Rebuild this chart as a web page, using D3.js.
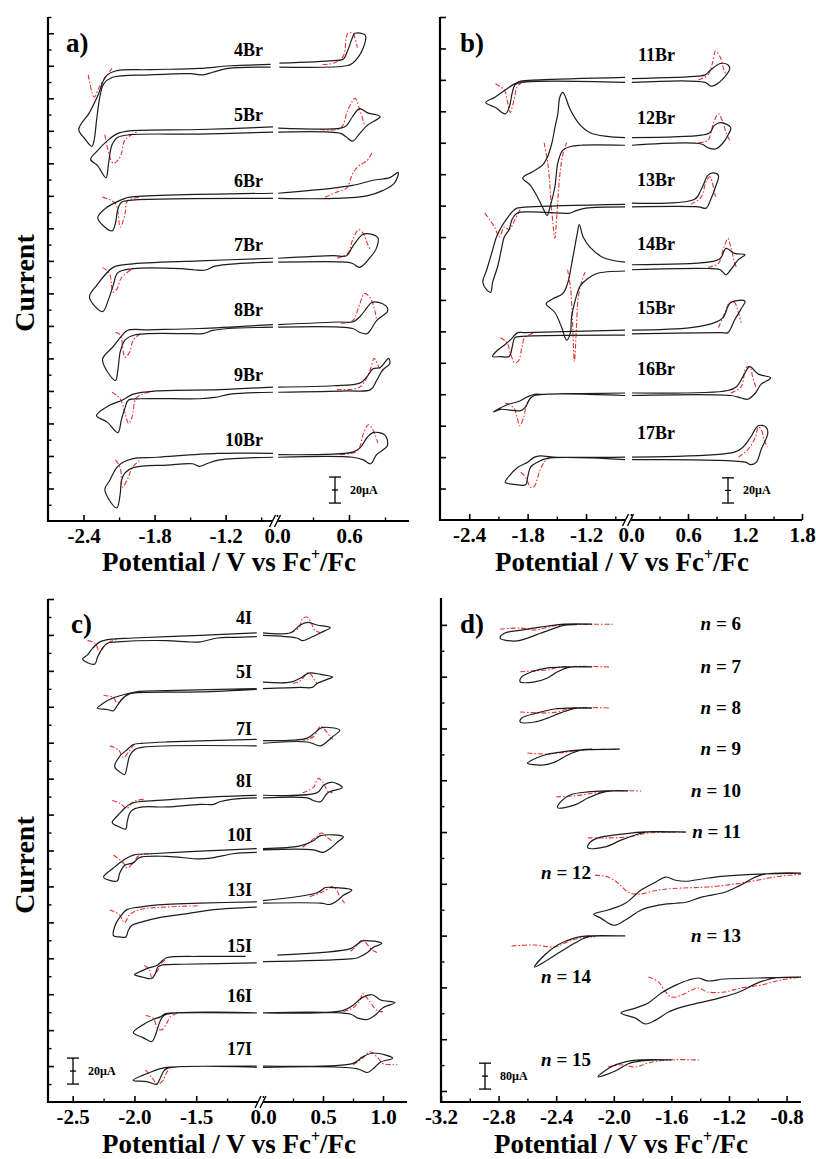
<!DOCTYPE html>
<html><head><meta charset="utf-8">
<script src="https://cdn.jsdelivr.net/npm/d3@7"></script>
<style>body{margin:0;background:#fff}</style>
</head><body>
<svg id="chart" width="816" height="1159" xmlns="http://www.w3.org/2000/svg"></svg>
<script>
// ===== Panel a (Br series): potentials in V, currents in µA relative to each trace's baseline =====
const aNames = ["4Br","5Br","6Br","7Br","8Br","9Br","10Br"];
const aBase = [349, 299, 248, 199, 149, 99, 49];
const aTickMajorL = [-2.4,-1.8,-1.2], aTickMinorL = [-2.1,-1.5,-0.9];
const aTickMajorR = [0.0,0.6], aTickMinorR = [0.3,0.9];
const aCvL = [
 [[-0.82,2],[-1.16,1],[-1.42,-1],[-1.84,-2],[-2.13,-3],[-2.21,-7],[-2.28,-22],[-2.35,-35],[-2.44,-48],[-2.39,-55],[-2.33,-61],[-2.31,-56],[-2.29,-41],[-2.26,-22],[-2.23,-13],[-2.16,-8],[-1.84,-6],[-1.50,-5],[-1.39,-6],[-1.31,-4],[-1.18,-1],[-0.82,0]],
 [[-0.80,4],[-1.42,2],[-2.01,1],[-2.11,-1],[-2.19,-6],[-2.29,-15],[-2.34,-21],[-2.28,-26],[-2.21,-35],[-2.19,-25],[-2.16,-10],[-2.11,-4],[-2.01,-2],[-1.42,-1.5],[-0.80,0]],
 [[-0.80,4],[-2.01,1],[-2.05,0],[-2.15,-4],[-2.22,-8],[-2.28,-15],[-2.16,-25],[-2.13,-19],[-2.11,-8],[-2.08,-3],[-2.01,-1.5],[-0.80,0]],
 [[-0.80,3],[-1.42,1],[-2.01,-1.5],[-2.15,-4],[-2.29,-18],[-2.35,-27],[-2.24,-38],[-2.19,-29],[-2.15,-18],[-2.11,-8],[-1.98,-5],[-1.58,-5],[-1.46,-6],[-1.37,-6],[-1.29,-3],[-1.08,-1],[-0.80,0]],
 [[-0.80,2],[-1.42,-1],[-1.84,-2],[-2.03,-2.5],[-2.09,-8],[-2.15,-15],[-2.24,-25],[-2.13,-41],[-2.11,-33],[-2.09,-19],[-2.05,-10],[-1.97,-6],[-1.50,-5],[-1.39,-5],[-1.31,-2.5],[-1.18,-1],[-0.80,0]],
 [[-0.80,4],[-1.25,2],[-1.78,1],[-1.98,-1.5],[-2.07,-6],[-2.18,-10],[-2.29,-18],[-2.20,-23],[-2.11,-31],[-2.08,-21],[-2.05,-12],[-2.02,-6],[-1.92,-5],[-1.42,-5],[-1.29,-4],[-1.16,-1.5],[-0.80,0]],
 [[-0.80,3],[-1.27,3],[-1.78,0],[-1.98,-1],[-2.07,-4],[-2.12,-8],[-2.18,-18],[-2.22,-25],[-2.12,-39],[-2.09,-28],[-2.08,-18],[-2.05,-12],[-1.98,-8],[-1.69,-6],[-1.48,-5],[-1.42,-7],[-1.36,-5],[-1.25,-2],[-0.80,0]]
];
const aCvR = [
 [[0.02,3],[0.47,5],[0.55,6],[0.59,13],[0.63,23],[0.65,26],[0.73,25],[0.74,23],[0.72,15],[0.68,8],[0.63,3],[0.58,1],[0.02,0]],
 [[0.01,3],[0.53,3],[0.58,5],[0.63,12],[0.69,18],[0.75,15],[0.86,12],[0.75,5],[0.69,-1],[0.63,-7],[0.58,-4],[0.53,-1],[0.01,0]],
 [[0.01,4],[0.47,8],[0.63,10],[0.80,14],[0.94,16],[1.01,20],[0.98,12],[0.88,6],[0.75,2],[0.47,0],[0.01,0]],
 [[0.01,3],[0.47,5],[0.58,5],[0.63,12],[0.71,21],[0.75,22],[0.84,19],[0.83,11],[0.78,4],[0.69,-4],[0.63,-1],[0.58,0],[0.01,0]],
 [[0.01,2],[0.53,4],[0.63,4],[0.69,8],[0.75,15],[0.79,19],[0.88,18],[0.92,15],[0.92,12],[0.83,5],[0.78,-2],[0.75,-5],[0.69,-4],[0.63,-1],[0.01,0]],
 [[0.01,4],[0.47,5],[0.69,7],[0.75,12],[0.80,18],[0.86,19],[0.93,26],[0.94,22],[0.88,17],[0.83,9],[0.78,2],[0.58,1],[0.01,0]],
 [[0.01,2],[0.63,4],[0.69,7],[0.75,15],[0.80,19],[0.90,17],[0.92,9],[0.83,2],[0.78,-5],[0.72,-2],[0.63,0],[0.01,0]]
];
const aDpvL = [
 [[-2.36,-6],[-2.31,-23],[-2.26,-14],[-2.16,-1]],
 [[-2.22,-2],[-2.15,-24],[-2.09,-19],[-2.05,-6],[-1.95,0]],
 [[-2.24,1],[-2.13,-4],[-2.09,-22],[-2.05,-12],[-2.03,-2],[-1.92,1]],
 [[-2.24,-4],[-2.18,-9],[-2.15,-23],[-2.12,-21],[-2.08,-12],[-1.97,-4]],
 [[-2.13,-4],[-2.09,-6],[-2.05,-23],[-2.01,-19],[-1.98,-10],[-1.92,-5]],
 [[-2.16,0],[-2.09,-5],[-2.05,-16],[-2.02,-24],[-1.99,-19],[-1.95,-4],[-1.80,1]],
 [[-2.13,-2],[-2.09,-8],[-2.07,-23],[-2.02,-15],[-1.99,-8],[-1.92,-2]]
];
const aDpvR = [
 [[0.38,2],[0.47,3],[0.55,8],[0.59,26],[0.63,26],[0.67,15]],
 [[0.36,2],[0.53,3],[0.59,17],[0.65,26],[0.69,17],[0.73,5]],
 [[0.40,1],[0.50,5],[0.58,8],[0.63,19],[0.68,25],[0.75,29],[0.79,35]],
 [[0.50,3],[0.59,7],[0.63,17],[0.68,25],[0.72,22],[0.75,15],[0.78,9]],
 [[0.53,3],[0.63,5],[0.69,18],[0.73,26],[0.78,22],[0.82,11],[0.83,5]],
 [[0.50,2],[0.69,4],[0.78,18],[0.81,26],[0.86,18],[0.90,17]],
 [[0.53,2],[0.67,5],[0.72,18],[0.76,25],[0.80,21],[0.84,11]]
];

// ===== Panel b =====
const bNames = ["11Br","12Br","13Br","14Br","15Br","16Br","17Br"];
const bBase = [348, 298, 249, 198, 147, 99, 48];
const bTickMajorL = [-2.4,-1.8,-1.2], bTickMinorL = [-2.1,-1.5,-0.9];
const bTickMajorR = [0.0,0.6,1.2,1.8], bTickMinorR = [0.3,0.9,1.5];
const bCvL = [
 [[-0.80,4],[-1.68,2],[-1.87,1],[-1.93,-1],[-2.03,-6],[-2.14,-12],[-2.23,-16],[-2.13,-20],[-2.03,-25],[-1.99,-20],[-1.96,-9],[-1.93,-2],[-1.86,0],[-0.80,0]],
 [[-0.80,6],[-0.98,7],[-1.16,10],[-1.26,16],[-1.36,28],[-1.42,40],[-1.44,42],[-1.47,38],[-1.49,25],[-1.52,14],[-1.55,2],[-1.60,-10],[-1.65,-16],[-1.75,-21],[-1.85,-26],[-1.77,-32],[-1.70,-41],[-1.63,-52],[-1.60,-56],[-1.57,-49],[-1.52,-33],[-1.49,-14],[-1.44,-4],[-1.36,-1],[-1.26,0],[-0.80,0]],
 [[-0.80,2],[-1.78,0],[-1.91,-1],[-1.96,-4],[-2.00,-8],[-2.07,-16],[-2.12,-24],[-2.17,-37],[-2.22,-50],[-2.26,-60],[-2.22,-66],[-2.18,-68],[-2.16,-60],[-2.11,-48],[-2.07,-34],[-2.04,-24],[-1.99,-18],[-1.96,-10],[-1.91,-5],[-1.78,-4],[-1.45,-5],[-1.37,-5],[-1.30,-3],[-1.20,-1],[-0.80,0]],
 [[-0.80,7],[-1.03,11],[-1.16,19],[-1.23,27],[-1.27,37],[-1.29,30],[-1.34,9],[-1.39,-10],[-1.44,-18],[-1.54,-22],[-1.61,-26],[-1.52,-33],[-1.45,-45],[-1.40,-55],[-1.36,-49],[-1.35,-37],[-1.31,-23],[-1.26,-12],[-1.18,-6],[-1.09,-2],[-0.80,0]],
 [[-0.80,4],[-1.83,2],[-1.90,2],[-1.98,-4],[-2.04,-8],[-2.11,-12],[-2.16,-17],[-2.08,-17],[-1.99,-17],[-1.96,-10],[-1.93,-2],[-1.86,-1],[-0.80,0]],
 [[-0.80,2],[-1.67,1],[-1.73,1],[-1.80,-1],[-1.90,-5],[-2.00,-7],[-2.15,-13],[-2.08,-11],[-1.87,-12],[-1.82,-9],[-1.78,-3],[-1.73,0],[-0.80,0]],
 [[-0.80,2],[-1.53,2],[-1.67,3],[-1.73,2],[-1.80,-2],[-1.90,-6],[-2.00,-14],[-2.03,-18],[-1.90,-20],[-1.82,-20],[-1.80,-14],[-1.77,-6],[-1.70,-2],[-1.60,1],[-0.80,0]]
];
const bCvR = [
 [[0.01,3],[0.71,5],[0.78,6],[0.84,10],[0.94,15],[1.02,14],[1.04,11],[0.97,3],[0.89,-2],[0.84,-3],[0.78,0],[0.01,0]],
 [[0.01,6],[0.74,8],[0.83,10],[0.88,16],[0.95,18],[1.05,14],[1.02,8],[0.97,2],[0.89,-3],[0.81,-2],[0.74,1],[0.01,0]],
 [[0.01,3],[0.67,6],[0.74,14],[0.81,25],[0.86,27],[0.92,25],[0.89,16],[0.84,6],[0.79,-1],[0.71,0],[0.01,0]],
 [[0.01,5],[0.81,7],[0.94,10],[1.00,18],[1.09,14],[1.20,13],[1.13,9],[1.05,1],[1.00,-3],[0.94,1],[0.81,2],[0.01,1]],
 [[0.01,4],[0.63,6],[0.88,10],[0.97,14],[1.05,26],[1.20,27],[1.16,21],[1.09,12],[1.02,2],[0.95,2],[0.01,1]],
 [[0.01,2],[1.02,4],[1.11,7],[1.20,18],[1.25,23],[1.34,17],[1.47,14],[1.37,9],[1.31,2],[1.23,-3],[1.16,-2],[1.05,0],[0.01,0]],
 [[0.01,2],[1.09,6],[1.18,10],[1.26,18],[1.34,27],[1.42,26],[1.44,21],[1.37,8],[1.32,-2],[1.26,-4],[1.20,-2],[0.01,0]]
];
const bDpvL = [
 [[-2.13,-1],[-2.04,-6],[-2.01,-14],[-1.98,-24],[-1.94,-14],[-1.91,-4],[-1.86,0]],
 [[-1.63,2],[-1.59,-16],[-1.55,-54],[-1.52,-74],[-1.50,-56],[-1.47,-24],[-1.44,-8],[-1.40,2]],
 [[-2.24,-5],[-2.14,-16],[-2.09,-24],[-2.04,-16],[-1.99,-18],[-1.93,-10],[-1.87,-1]],
 [[-1.39,1],[-1.36,-13],[-1.34,-39],[-1.32,-72],[-1.30,-47],[-1.28,-21],[-1.24,-7],[-1.21,-1]],
 [[-2.08,-2],[-2.01,-6],[-1.98,-14],[-1.93,-22],[-1.89,-20],[-1.86,-10],[-1.83,-2],[-1.73,2]],
 [[-2.03,-6],[-1.94,-10],[-1.91,-17],[-1.88,-24],[-1.84,-17],[-1.81,-7],[-1.76,-1]],
 [[-1.87,-10],[-1.82,-14],[-1.77,-22],[-1.73,-21],[-1.68,-10],[-1.63,-2],[-1.57,2]]
];
const bDpvR = [
 [[0.71,2],[0.81,6],[0.86,16],[0.89,25],[0.94,20],[0.97,12],[1.00,6]],
 [[0.71,2],[0.81,4],[0.87,18],[0.92,25],[0.97,18],[1.00,10],[1.04,4]],
 [[0.63,2],[0.74,8],[0.79,20],[0.83,24],[0.86,18],[0.88,11],[0.89,8]],
 [[0.81,3],[0.92,6],[0.97,17],[1.02,26],[1.05,19],[1.09,7],[1.11,3]],
 [[0.92,6],[0.99,18],[1.04,26],[1.09,26],[1.13,18],[1.16,10]],
 [[1.05,2],[1.16,7],[1.21,22],[1.25,23],[1.28,15],[1.32,5]],
 [[1.13,2],[1.23,8],[1.31,18],[1.34,26],[1.37,24],[1.41,14],[1.44,10]]
];

// ===== Panel c (I series) =====
const cNames = ["4I","5I","7I","8I","10I","13I","15I","16I","17I"];
const cBase = [359, 318, 274, 234, 192, 150, 107, 68.5, 27.7];
const cTickMajorL = [-2.5,-2.0,-1.5], cTickMinorL = [-2.25,-1.75,-1.25];
const cTickMajorR = [0.0,0.5,1.0], cTickMinorR = [0.25,0.75];
const cCvL = [
 [[-1.01,2],[-1.47,0],[-2.01,-2],[-2.20,-3],[-2.28,-5],[-2.34,-10],[-2.38,-15],[-2.42,-18],[-2.38,-21],[-2.32,-22],[-2.30,-17],[-2.26,-10],[-2.22,-6],[-2.14,-5],[-1.74,-4],[-1.57,-5],[-1.47,-5],[-1.33,-2],[-1.20,-1.5],[-1.01,-1]],
 [[-1.01,0],[-1.74,-1.5],[-1.96,-2],[-2.06,-4],[-2.17,-7],[-2.25,-11],[-2.30,-15],[-2.22,-16],[-2.17,-17],[-2.14,-13],[-2.09,-7],[-2.04,-4],[-1.96,-3],[-1.47,-2.5],[-1.01,-0.5]],
 [[-1.01,5],[-1.74,3],[-1.93,2],[-2.01,1],[-2.06,-3],[-2.12,-8],[-2.16,-16],[-2.12,-20],[-2.08,-22],[-2.06,-16],[-2.04,-8],[-2.00,-3],[-1.93,-1],[-1.01,0]],
 [[-1.01,2],[-1.33,1],[-1.74,-1.5],[-1.96,-3],[-2.02,-4],[-2.08,-8],[-2.13,-13],[-2.18,-19],[-2.13,-22],[-2.07,-24],[-2.06,-19],[-2.04,-12],[-2.01,-9],[-1.93,-7],[-1.74,-7],[-1.47,-5],[-1.36,-5],[-1.31,-3],[-1.20,-1],[-1.01,0]],
 [[-1.01,3],[-1.47,1],[-1.87,-1],[-2.01,-2],[-2.09,-6],[-2.17,-12],[-2.25,-19],[-2.14,-22],[-2.12,-16],[-2.08,-10],[-2.01,-8],[-1.96,-4],[-1.74,-3],[-1.47,-5],[-1.36,-4],[-1.20,-1],[-1.01,0]],
 [[-1.01,4],[-1.47,3],[-1.74,2],[-1.96,0],[-2.06,-2],[-2.12,-8],[-2.16,-15],[-2.17,-22],[-2.12,-23],[-2.07,-23],[-2.05,-18],[-2.02,-14],[-1.96,-12],[-1.79,-8],[-1.57,-5],[-1.36,-2],[-1.01,0]],
 [[-1.10,5],[-1.47,5],[-1.74,4],[-1.77,2],[-1.82,-2],[-1.89,-4],[-1.96,-7],[-2.00,-9],[-1.93,-11],[-1.86,-12],[-1.83,-8],[-1.81,-3],[-1.77,-1.5],[-1.61,-1],[-1.01,0]],
 [[-1.01,0],[-1.69,0],[-1.75,-0.5],[-1.79,-3],[-1.85,-5],[-1.93,-9],[-2.01,-15],[-1.93,-19],[-1.86,-22],[-1.83,-17],[-1.81,-11],[-1.78,-4],[-1.74,-1],[-1.01,0]],
 [[-1.01,0],[-1.74,-1],[-1.79,-2],[-1.85,-4],[-1.93,-7],[-2.01,-11],[-1.90,-12],[-1.82,-14],[-1.79,-9],[-1.77,-5],[-1.74,-2],[-1.01,-1]]
];
const cCvR = [
 [[0.00,2],[0.23,2],[0.31,8],[0.37,10],[0.45,8],[0.56,6],[0.48,2],[0.39,-2],[0.33,-4],[0.28,-2],[0.00,0]],
 [[0.00,5],[0.23,5],[0.31,8],[0.38,12],[0.48,11],[0.58,9],[0.53,7],[0.45,4],[0.41,1],[0.31,1],[0.00,0]],
 [[0.00,4],[0.37,6],[0.43,10],[0.49,14],[0.64,12],[0.58,7],[0.53,3],[0.48,0],[0.37,3],[0.00,2]],
 [[0.00,2],[0.45,4],[0.51,10],[0.58,12],[0.66,8],[0.54,4],[0.48,-3],[0.42,-2],[0.37,0],[0.00,0]],
 [[0.00,3],[0.31,5],[0.42,9],[0.48,13],[0.67,12],[0.62,8],[0.56,3],[0.50,0],[0.42,2],[0.00,2]],
 [[0.00,5],[0.45,11],[0.52,15],[0.58,15],[0.74,13],[0.67,9],[0.62,5],[0.56,2],[0.48,3],[0.00,3]],
 [[0.12,6],[0.73,11],[0.78,14],[0.83,17],[0.99,15],[0.92,12],[0.87,8],[0.79,4],[0.70,3],[0.00,1]],
 [[0.00,0],[0.67,2],[0.75,6],[0.83,12],[0.91,14],[0.98,10],[1.10,8],[1.00,4],[0.93,-2],[0.87,-5],[0.79,-4],[0.73,-1],[0.00,0]],
 [[0.00,0],[0.75,2],[0.83,7],[0.92,10],[1.08,6],[0.98,3],[0.92,-2],[0.87,-5],[0.78,-2],[0.00,-1]]
];
const cDpvL = [
 [[-2.38,-4],[-2.32,-6],[-2.28,-13],[-2.25,-9],[-2.20,-5],[-2.14,-3]],
 [[-2.25,-5],[-2.17,-7],[-2.14,-11],[-2.10,-8],[-2.05,-4],[-1.98,-3]],
 [[-2.20,0],[-2.13,-3],[-2.09,-9],[-2.05,-5],[-2.00,1],[-1.93,2]],
 [[-2.18,-2],[-2.12,-4],[-2.06,-8],[-2.02,-4],[-1.98,-2],[-1.91,-1]],
 [[-2.17,-2],[-2.09,-8],[-2.06,-12],[-2.01,-8],[-1.96,-2],[-1.85,-1]],
 [[-2.20,-2],[-2.12,-6],[-2.08,-12],[-2.04,-6],[-1.96,-2],[-1.74,0],[-1.47,1]],
 [[-1.92,-2],[-1.88,-5],[-1.86,-11],[-1.82,-7],[-1.78,0],[-1.74,3]],
 [[-1.91,-2],[-1.85,-4],[-1.81,-12],[-1.78,-13],[-1.74,-8],[-1.71,-3],[-1.65,0]],
 [[-1.91,-3],[-1.86,-9],[-1.81,-14],[-1.77,-11],[-1.74,-5],[-1.71,-2]]
];
const cDpvR = [
 [[0.23,2],[0.30,6],[0.33,13],[0.37,14],[0.41,8],[0.43,4],[0.48,2]],
 [[0.25,4],[0.31,6],[0.37,12],[0.39,12],[0.42,8],[0.45,4]],
 [[0.31,3],[0.42,7],[0.48,15],[0.52,12],[0.56,7],[0.58,5]],
 [[0.33,4],[0.42,8],[0.46,15],[0.50,12],[0.54,5],[0.58,4]],
 [[0.33,4],[0.43,11],[0.49,15],[0.53,12],[0.57,9]],
 [[0.39,8],[0.48,11],[0.56,15],[0.58,16],[0.62,12],[0.64,8],[0.68,3]],
 [[0.73,9],[0.79,14],[0.83,18],[0.87,14],[0.91,10],[0.95,8]],
 [[0.67,1],[0.75,4],[0.81,10],[0.83,15],[0.88,10],[0.95,2],[1.00,1]],
 [[0.75,1],[0.83,6],[0.89,11],[0.95,7],[1.00,2],[1.08,1],[1.12,1]]
];

// ===== Panel d (chain length n) =====
const dNs = [6,7,8,9,10,11,12,13,14,15];
const dBase = [1442, 1310, 1183, 1056, 927, 800, 673, 479, 352, 96];
const dTickMajor = [-3.2,-2.8,-2.4,-2.0,-1.6,-1.2,-0.8], dTickMinor = [-3.0,-2.6,-2.2,-1.8,-1.4,-1.0];
const dCv = [
 [[-2.15,0],[-2.34,0],[-2.51,-9],[-2.64,-18],[-2.76,-28],[-2.79,-43],[-2.69,-52],[-2.60,-43],[-2.51,-28],[-2.41,-12],[-2.34,-3],[-2.25,0],[-2.15,0]],
 [[-2.15,0],[-2.34,0],[-2.46,-3],[-2.57,-15],[-2.64,-31],[-2.65,-46],[-2.55,-46],[-2.46,-34],[-2.39,-15],[-2.32,-2],[-2.15,0]],
 [[-2.15,0],[-2.30,0],[-2.41,-3],[-2.53,-15],[-2.64,-31],[-2.65,-43],[-2.55,-43],[-2.46,-31],[-2.37,-15],[-2.27,-1],[-2.15,0]],
 [[-1.96,0],[-2.25,-3],[-2.37,-9],[-2.48,-18],[-2.57,-34],[-2.60,-43],[-2.50,-49],[-2.41,-40],[-2.32,-18],[-2.23,-3],[-2.15,0]],
 [[-1.90,0],[-2.04,0],[-2.18,-3],[-2.30,-12],[-2.37,-34],[-2.39,-52],[-2.27,-43],[-2.18,-22],[-2.09,-6],[-2.02,0],[-1.90,0]],
 [[-1.50,0],[-1.81,0],[-1.99,-9],[-2.11,-18],[-2.17,-34],[-2.18,-49],[-2.06,-46],[-1.95,-25],[-1.85,-9],[-1.78,0],[-1.60,0]],
 [[-0.70,0],[-1.00,-3],[-1.23,-9],[-1.39,-18],[-1.50,-25],[-1.57,-22],[-1.64,-12],[-1.71,-28],[-1.81,-52],[-1.92,-93],[-2.04,-114],[-2.14,-127],[-2.09,-139],[-2.00,-161],[-1.92,-145],[-1.81,-114],[-1.69,-99],[-1.57,-93],[-1.50,-90],[-1.39,-74],[-1.23,-59],[-1.12,-37],[-0.98,-6],[-0.70,0]],
 [[-1.92,0],[-2.18,0],[-2.27,-6],[-2.39,-28],[-2.48,-59],[-2.55,-96],[-2.46,-74],[-2.37,-49],[-2.27,-22],[-2.18,-3],[-2.05,0]],
 [[-0.70,0],[-1.00,-3],[-1.23,-6],[-1.35,-12],[-1.41,-3],[-1.48,-9],[-1.57,-25],[-1.67,-49],[-1.76,-80],[-1.85,-96],[-1.95,-111],[-1.85,-127],[-1.78,-145],[-1.71,-133],[-1.62,-108],[-1.53,-93],[-1.41,-80],[-1.27,-65],[-1.13,-46],[-1.00,-18],[-0.88,-3],[-0.70,0]],
 [[-1.60,0],[-1.81,0],[-1.92,-6],[-2.02,-22],[-2.11,-52],[-1.99,-34],[-1.90,-12],[-1.81,-3],[-1.70,0]]
];
const dDpv = [
 [[-2.79,-15],[-2.64,-12],[-2.55,-18],[-2.46,-9],[-2.37,-3],[-2.00,0]],
 [[-2.65,-15],[-2.55,-12],[-2.46,-9],[-2.37,0],[-2.02,0]],
 [[-2.65,-12],[-2.51,-15],[-2.39,-12],[-2.30,0],[-2.02,0]],
 [[-2.60,-12],[-2.48,-15],[-2.39,-12],[-2.32,-9],[-2.23,-3],[-1.96,0]],
 [[-2.40,-18],[-2.27,-15],[-2.13,-6],[-2.02,0],[-1.81,0]],
 [[-2.18,-18],[-2.04,-18],[-1.90,-15],[-1.76,-3],[-1.50,0]],
 [[-2.13,-6],[-2.04,-12],[-1.97,-31],[-1.90,-59],[-1.83,-65],[-1.69,-52],[-1.53,-46],[-1.35,-43],[-1.12,-31],[-0.88,-12],[-0.70,-3]],
 [[-2.71,-31],[-2.55,-28],[-2.41,-34],[-2.32,-18],[-2.23,-6],[-2.13,-3]],
 [[-1.76,0],[-1.69,-15],[-1.64,-46],[-1.60,-62],[-1.53,-56],[-1.46,-40],[-1.41,-34],[-1.35,-46],[-1.23,-46],[-1.12,-34],[-0.98,-25],[-0.84,-9],[-0.70,0]],
 [[-2.04,-22],[-1.95,-15],[-1.85,-22],[-1.76,-9],[-1.62,0],[-1.41,0]]
];

// ===== Drawing =====
const svg = d3.select("#chart");
const FONT = "'Liberation Serif','Times New Roman',Times,serif";
const BLACK = "#1c1c1c", RED = "#e8322e";

function drawPanel(P) {
  const g = svg.append("g").attr("font-family", FONT).attr("font-weight", "bold");
  const y = d3.scaleLinear().domain(P.yDom).range(P.yRng);
  const xs = P.xDoms.map((d, i) => d3.scaleLinear().domain(d).range(P.xRngs[i]));
  const x0 = P.xRngs[0][0], x1 = P.xRngs[P.xRngs.length - 1][1];
  const y0 = P.yRng[0], yTop = P.yRng[1];

  xs.forEach((sc, i) => {
    const ax = g.append("g").attr("transform", `translate(0,${y0})`)
      .call(d3.axisBottom(sc).tickValues(P.xMajor[i]).tickSize(-6).tickPadding(7).tickFormat(d => d.toFixed(1)));
    ax.select(".domain").remove();
    ax.selectAll("line").attr("stroke", "#000").attr("stroke-width", 1.6);
    ax.selectAll("text").attr("font-size", 21).attr("font-family", FONT).attr("font-weight", "bold").attr("fill", "#000");
    const mi = g.append("g").attr("transform", `translate(0,${y0})`)
      .call(d3.axisBottom(sc).tickValues(P.xMinor[i]).tickSize(-3.5).tickFormat(""));
    mi.select(".domain").remove();
    mi.selectAll("line").attr("stroke", "#000").attr("stroke-width", 1.4);
  });
  const ya = g.append("g").attr("transform", `translate(${x0},0)`)
    .call(d3.axisRight(y).tickValues(P.yMajor).tickSize(6).tickFormat(""));
  ya.select(".domain").remove();
  ya.selectAll("line").attr("stroke", "#000").attr("stroke-width", 1.6);
  if (P.yMinor) {
    const ym = g.append("g").attr("transform", `translate(${x0},0)`)
      .call(d3.axisRight(y).tickValues(P.yMinor).tickSize(3.5).tickFormat(""));
    ym.select(".domain").remove();
    ym.selectAll("line").attr("stroke", "#000").attr("stroke-width", 1.4);
  }
  g.append("line").attr("x1", x0).attr("x2", x1).attr("y1", y0).attr("y2", y0).attr("stroke", "#000").attr("stroke-width", 2.2);
  g.append("line").attr("x1", x0).attr("x2", x0).attr("y1", y0 + 1).attr("y2", yTop).attr("stroke", "#000").attr("stroke-width", 2.2);
  if (P.breakX) {
    const bx = P.breakX;
    g.append("polygon").attr("points", `${bx-5},${y0+4} ${bx+1},${y0+4} ${bx+5},${y0-4} ${bx-1},${y0-4}`).attr("fill", "#fff");
    [-2.5, 2.5].forEach(k => {
      g.append("line").attr("x1", bx + k - 3).attr("y1", y0 + 6).attr("x2", bx + k + 3).attr("y2", y0 - 6)
        .attr("stroke", "#000").attr("stroke-width", 1.4);
    });
  }

  const mk = (sc, base) => d3.line().x(d => sc(d[0])).y(d => y(base + d[1])).curve(d3.curveCatmullRom.alpha(0.5));
  P.names.forEach((nm, i) => {
    const base = P.base[i];
    xs.forEach((sc, s) => {
      g.append("path").attr("d", mk(sc, base)(P.dpv[s][i])).attr("fill", "none")
        .attr("stroke", RED).attr("stroke-width", 1.1).attr("stroke-dasharray", "5,2,1.5,2");
      g.append("path").attr("d", mk(sc, base)(P.cv[s][i])).attr("fill", "none")
        .attr("stroke", BLACK).attr("stroke-width", 1.2).attr("stroke-linejoin", "round");
    });
    const t = g.append("text").attr("x", P.labelX(i)).attr("y", y(base) + P.labelDy)
      .attr("text-anchor", "end").attr("font-size", P.labelSize).attr("fill", "#000");
    if (P.italicN) {
      t.append("tspan").attr("font-style", "italic").text("n");
      t.append("tspan").text(" = " + nm);
    } else t.text(nm);
  });

  const b = P.bar;
  const by1 = y(b.from), by2 = y(b.from + b.len), bm = (by1 + by2) / 2;
  g.append("line").attr("x1", b.x).attr("x2", b.x).attr("y1", by1).attr("y2", by2).attr("stroke", "#000").attr("stroke-width", 1.3);
  [[by1, 6], [by2, 6], [bm, 3]].forEach(([yy, w]) => g.append("line").attr("x1", b.x - w).attr("x2", b.x + w)
    .attr("y1", yy).attr("y2", yy).attr("stroke", "#000").attr("stroke-width", 1.3));
  g.append("text").attr("x", b.x + 15).attr("y", bm + 4).attr("font-size", 12).text(b.label);

  g.append("text").attr("x", P.tag[1]).attr("y", P.tag[2]).attr("font-size", 27).text(P.tag[0]);

  const tt = g.append("text").attr("x", P.titleX).attr("y", P.titleY).attr("text-anchor", "middle").attr("font-size", 27);
  tt.append("tspan").text("Potential / V vs Fc");
  tt.append("tspan").attr("font-size", 16).attr("dy", -11).text("+");
  tt.append("tspan").attr("dy", 11).text("/Fc");
}

const cStep = 387 / 14;
drawPanel({
  names: aNames, base: aBase, cv: [aCvL, aCvR], dpv: [aDpvL, aDpvR],
  xDoms: [[-2.7, -0.8], [0, 1.1]], xRngs: [[48, 273], [277, 409]],
  xMajor: [aTickMajorL, aTickMajorR], xMinor: [aTickMinorL, aTickMinorR],
  yDom: [0, 387.5], yRng: [521, 17], yMajor: d3.range(25, 376, 25), yMinor: d3.range(12.5, 388, 25),
  breakX: 275, labelX: () => 263, labelDy: -11, labelSize: 18,
  bar: {x: 335, from: 13.8, len: 20, label: "20µA"},
  tag: ["a)", 66, 52], titleX: 229, titleY: 571
});
drawPanel({
  names: bNames, base: bBase, cv: [bCvL, bCvR], dpv: [bDpvL, bDpvR],
  xDoms: [[-2.7, -0.8], [0, 1.8]], xRngs: [[440, 625], [631, 802]],
  xMajor: [bTickMajorL, bTickMajorR], xMinor: [bTickMinorL, bTickMinorR],
  yDom: [0, 400], yRng: [520, 17], yMajor: d3.range(25, 401, 25), yMinor: null,
  breakX: 628, labelX: () => 675, labelDy: -21, labelSize: 18,
  bar: {x: 728, from: 13.5, len: 20, label: "20µA"},
  tag: ["b)", 460, 52], titleX: 622, titleY: 571
});
drawPanel({
  names: cNames, base: cBase, cv: [cCvL, cCvR], dpv: [cDpvL, cDpvR],
  xDoms: [[-2.7, -1.0], [0, 1.2]], xRngs: [[48, 258], [263, 407]],
  xMajor: [cTickMajorL, cTickMajorR], xMinor: [cTickMinorL, cTickMinorR],
  yDom: [0, 387], yRng: [1102, 599], yMajor: d3.range(1, 15).map(k => k * cStep), yMinor: d3.range(0, 14).map(k => (k + 0.5) * cStep),
  breakX: 260.5, labelX: () => 252, labelDy: -11, labelSize: 18,
  bar: {x: 73, from: 13.8, len: 20, label: "20µA"},
  tag: ["c)", 71, 633], titleX: 229, titleY: 1153
});
drawPanel({
  names: dNs, base: dBase, cv: [dCv], dpv: [dDpv],
  xDoms: [[-3.2, -0.7]], xRngs: [[441, 801]],
  xMajor: [dTickMajor], xMinor: [dTickMinor],
  yDom: [-34, 1523], yRng: [1102, 598], yMajor: d3.range(0, 1441, 160), yMinor: d3.range(80, 1441, 160),
  breakX: null, italicN: true, labelSize: 19,
  labelX: i => (d3.max(dCv[i].concat(dDpv[i]), d => d[0]) > -1.45 ? 591 : 741), labelDy: 6,
  bar: {x: 485, from: 6, len: 80, label: "80µA"},
  tag: ["d)", 460, 633], titleX: 621, titleY: 1153
});

[283, 865].forEach(cy => {
  svg.append("text").attr("transform", `translate(34,${cy}) rotate(-90)`).attr("text-anchor", "middle")
    .attr("font-family", FONT).attr("font-weight", "bold").attr("font-size", 28).text("Current");
});
</script>
</body></html>
